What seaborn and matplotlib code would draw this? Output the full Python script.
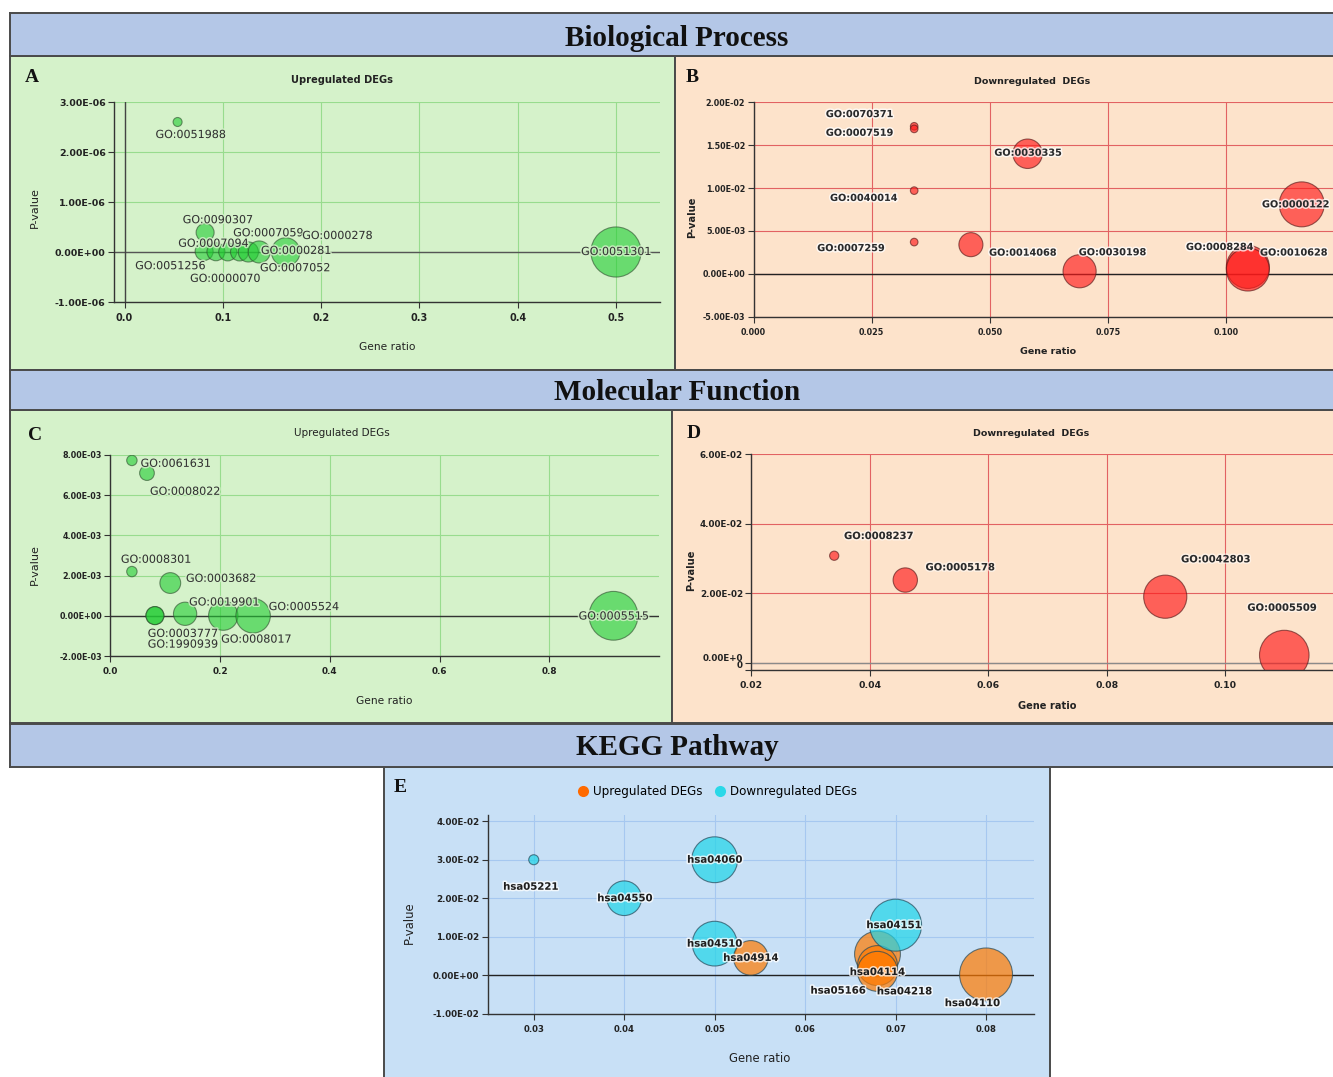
import numpy as np
import pandas as pd
import matplotlib
matplotlib.use("Agg")
import matplotlib.pyplot as plt
import matplotlib.patheffects as pe
from matplotlib.lines import Line2D
import seaborn as sns

# ---------------------------------------------------------------- data
# A: biological process, upregulated DEGs
bp_up_terms = ["GO:0051988", "GO:0090307", "GO:0051256", "GO:0007094", "GO:0000070",
               "GO:0007052", "GO:0000281", "GO:0007059", "GO:0000278", "GO:0051301"]
bp_up_ratio = [0.054, 0.082, 0.081, 0.093, 0.105, 0.117, 0.126, 0.137, 0.164, 0.500]
bp_up_pvalue = [2.6e-6, 3.9e-7, 1e-8, 5e-9, 2e-9, 1e-9, 1e-9, 5e-10, 1e-10, 1e-12]
bp_up_count = [1, 4, 4, 4, 4, 4, 5, 6, 10, 31]

# B: biological process, downregulated DEGs
bp_down_terms = ["GO:0070371", "GO:0007519", "GO:0040014", "GO:0007259", "GO:0014068",
                 "GO:0030335", "GO:0030198", "GO:0008284", "GO:0010628", "GO:0000122"]
bp_down_ratio = [0.034, 0.034, 0.034, 0.034, 0.046, 0.058, 0.069, 0.1046, 0.1046, 0.116]
bp_down_pvalue = [0.0172, 0.0169, 0.0097, 0.0037, 0.0034, 0.0140, 0.0003, 0.0008, 0.0005, 0.0081]
bp_down_count = [1, 1, 1, 1, 10, 15, 19, 32, 32, 35]

# C: molecular function, upregulated DEGs
mf_up_terms = ["GO:0061631", "GO:0008022", "GO:0008301", "GO:0003682", "GO:0003777",
               "GO:1990939", "GO:0019901", "GO:0008017", "GO:0005524", "GO:0005515"]
mf_up_ratio = [0.039, 0.0665, 0.039, 0.109, 0.081, 0.081, 0.136, 0.2056, 0.260, 0.917]
mf_up_pvalue = [7.73e-3, 7.1e-3, 2.2e-3, 1.63e-3, 1e-5, 1e-5, 1e-4, 1e-5, 1e-6, 1e-8]
mf_up_count = [1, 2, 1, 4, 3, 3, 5, 8, 11, 22]

# D: molecular function, downregulated DEGs
mf_down_terms = ["GO:0008237", "GO:0005178", "GO:0042803", "GO:0005509"]
mf_down_ratio = [0.034, 0.046, 0.0899, 0.110]
mf_down_pvalue = [0.0308, 0.0238, 0.0190, 0.0022]
mf_down_count = [1, 7, 22, 29]

# E: KEGG pathways
kegg_terms = ["hsa05221", "hsa04550", "hsa04060", "hsa04510", "hsa04914",
              "hsa04114", "hsa05166", "hsa04218", "hsa04151", "hsa04110"]
kegg_ratio = [0.030, 0.040, 0.050, 0.050, 0.054, 0.068, 0.068, 0.068, 0.070, 0.080]
kegg_pvalue = [0.0300, 0.0200, 0.0300, 0.0082, 0.0045, 0.0055, 0.0025, 0.0010, 0.0130, 0.0002]
kegg_count = [1, 12, 21, 20, 12, 21, 16, 16, 27, 28]
kegg_group = ["Downregulated DEGs", "Downregulated DEGs", "Downregulated DEGs", "Downregulated DEGs",
              "Upregulated DEGs", "Upregulated DEGs", "Upregulated DEGs", "Upregulated DEGs",
              "Downregulated DEGs", "Upregulated DEGs"]

# tick labels
a_xticks, a_xlabels = [0.0, 0.1, 0.2, 0.3, 0.4, 0.5], ["0.0", "0.1", "0.2", "0.3", "0.4", "0.5"]
a_yticks = [-1e-6, 0.0, 1e-6, 2e-6, 3e-6]
a_ylabels = ["-1.00E-06", "0.00E+00", "1.00E-06", "2.00E-06", "3.00E-06"]
b_xticks, b_xlabels = [0.0, 0.025, 0.05, 0.075, 0.1], ["0.000", "0.025", "0.050", "0.075", "0.100"]
b_yticks = [-0.005, 0.0, 0.005, 0.01, 0.015, 0.02]
b_ylabels = ["-5.00E-03", "0.00E+00", "5.00E-03", "1.00E-02", "1.50E-02", "2.00E-02"]
c_xticks, c_xlabels = [0.0, 0.2, 0.4, 0.6, 0.8], ["0.0", "0.2", "0.4", "0.6", "0.8"]
c_yticks = [-0.002, 0.0, 0.002, 0.004, 0.006, 0.008]
c_ylabels = ["-2.00E-03", "0.00E+00", "2.00E-03", "4.00E-03", "6.00E-03", "8.00E-03"]
d_xticks, d_xlabels = [0.02, 0.04, 0.06, 0.08, 0.10], ["0.02", "0.04", "0.06", "0.08", "0.10"]
d_yticks = [-0.0021, 0.0, 0.02, 0.04, 0.06]
d_ylabels = ["0", "0.00E+0", "2.00E-02", "4.00E-02", "6.00E-02"]
e_xticks = [0.03, 0.04, 0.05, 0.06, 0.07, 0.08]
e_xlabels = ["0.03", "0.04", "0.05", "0.06", "0.07", "0.08"]
e_yticks = [-0.01, 0.0, 0.01, 0.02, 0.03, 0.04]
e_ylabels = ["-1.00E-02", "0.00E+00", "1.00E-02", "2.00E-02", "3.00E-02", "4.00E-02"]

# ---------------------------------------------------------------- style
W, H = 1333, 1077
GREEN_BG, PEACH_BG, BLUE_BG, BAND = "#d5f2ca", "#fde3cb", "#c8e0f6", "#b4c7e7"
GREEN, RED = "#22cc33", "#ff1a1a"
ORANGE, CYAN = "#ff7a00", "#1fd5e8"
SANS = "DejaVu Sans"
SERIF = "Liberation Serif"

fig = plt.figure(figsize=(W / 100, H / 100), dpi=100)
fig.patch.set_facecolor("white")


def px_rect(x0, y0, x1, y1):
    return [x0 / W, 1 - y1 / H, (x1 - x0) / W, (y1 - y0) / H]


def fig_xy(x, y):
    return x / W, 1 - y / H


def panel_bg(x0, y0, x1, y1, color, z=0):
    bg = fig.add_axes(px_rect(x0, y0, x1, y1), zorder=z)
    bg.set_facecolor(color)
    bg.set_xticks([])
    bg.set_yticks([])
    for s in bg.spines.values():
        s.set_color("#4a4a4a")
        s.set_linewidth(1.4)
    return bg


def ftext(x, y, s, **kw):
    fig.text(*fig_xy(x, y), s, **kw)


def bubble_axes(rect, df, xlim, ylim, xticks, xlabels, yticks, ylabels, unit_r,
                grid_color, zero_color, xfs, yfs, color=None, hue=None, palette=None,
                alpha=0.6, edge="#2d4d2d"):
    ax = fig.add_axes(px_rect(*rect), zorder=2)
    ax.set_facecolor("none")
    cmax = df["count"].max()
    smax = (1.44 * unit_r) ** 2 * cmax
    sns.scatterplot(data=df, x="ratio", y="pvalue", size="count", sizes=(0, smax),
                    size_norm=(0, cmax), hue=hue, palette=palette, color=color,
                    alpha=alpha, edgecolor=edge, linewidth=0.8, legend=False,
                    ax=ax, zorder=2)
    ax.set_xlabel("")
    ax.set_ylabel("")
    ax.set_xlim(*xlim)
    ax.set_ylim(*ylim)
    ax.set_xticks(xticks)
    ax.set_xticklabels(xlabels, fontsize=xfs, fontweight="bold", family=SANS, color="#222")
    ax.set_yticks(yticks)
    ylabs = ax.set_yticklabels(ylabels, fontsize=yfs, fontweight="bold", family=SANS, color="#222")
    ax.set_axisbelow(True)
    ax.grid(True, color=grid_color, lw=0.8)
    ax.axhline(0, color=zero_color, lw=1.0, zorder=0.8)
    for side in ("top", "right"):
        ax.spines[side].set_visible(False)
    for side in ("left", "bottom"):
        ax.spines[side].set_color("#333")
        ax.spines[side].set_linewidth(1.0)
    ax.tick_params(direction="out", length=4, width=0.8, color="#333", pad=2)
    ax.tick_params(axis="x", pad=4)
    return ax, ylabs


def label_points(ax, df, offsets, ha="center", fs=8, weight="normal", color="#333",
                 halo="white", halo_alpha=0.7):
    has = ha if isinstance(ha, list) else [ha] * len(df)
    for (term, x, y), (dx, dy), h in zip(df[["term", "ratio", "pvalue"]].itertuples(index=False),
                                       offsets, has):
        ax.annotate(term, (x, y), xytext=(dx, dy), textcoords="offset pixels",
                    ha=h, va="center", fontsize=fs, fontweight=weight, color=color,
                    family=SANS, zorder=3, annotation_clip=False,
                    path_effects=[pe.withStroke(linewidth=2.2, foreground=halo, alpha=halo_alpha)])


def frame(terms, ratio, pvalue, count, group=None):
    d = {"term": terms, "ratio": ratio, "pvalue": pvalue, "count": count}
    if group is not None:
        d["group"] = group
    return pd.DataFrame(d)


# ---------------------------------------------------------------- backgrounds
panel_bg(10, 56, 675, 370, GREEN_BG)
panel_bg(675, 56, W + 10, 370, PEACH_BG)
panel_bg(10, 410, 672, 723, GREEN_BG)
panel_bg(672, 410, W + 10, 723, PEACH_BG)
panel_bg(384, 767, 1050, H + 10, BLUE_BG)
for (y0, y1, title, base) in [(13, 56, "Biological Process", 45.5),
                              (370, 410, "Molecular Function", 400),
                              (724, 767, "KEGG Pathway", 755)]:
    panel_bg(10, y0, W + 10, y1, BAND, z=1)
    ftext(677, base, title, ha="center", va="baseline", fontsize=21,
          fontweight="bold", family=SERIF, color="#111")

for letter, x, y in [("A", 32, 78), ("B", 692, 78), ("C", 35, 435), ("D", 694, 434), ("E", 400, 787)]:
    ftext(x, y, letter, ha="center", va="center", fontsize=14, fontweight="bold",
          family=SERIF, color="#111")

# ---------------------------------------------------------------- A
df_a = frame(bp_up_terms, bp_up_ratio, bp_up_pvalue, bp_up_count)
ax_a, _ = bubble_axes((114, 102, 660, 302), df_a, (-0.0107, 0.5448), (-1e-6, 3e-6),
                      a_xticks, a_xlabels, a_yticks, a_ylabels, 4.5, "#98dc8e", "#555",
                      6.9, 6.8, color=GREEN)
ax_a.axvline(0, color="#444", lw=1.0, zorder=0.8)
label_points(ax_a, df_a,
             [(13, -13), (12.6, 12.3), (-34, -14.7), (-2.6, 8), (-2.7, -27),
              (55.5, -16.3), (47.6, 1), (9, 18.7), (51.6, 16), (0, 0)],
             fs=8, color="#333", halo=GREEN_BG, halo_alpha=0.8)
ftext(342, 80, "Upregulated DEGs", ha="center", va="center", fontsize=7.1,
      fontweight="bold", family=SANS, color="#222")
ftext(35, 208, "P-value", ha="center", va="center", rotation=90, fontsize=8, family=SANS, color="#222")
ftext(387, 347, "Gene ratio", ha="center", va="center", fontsize=7.7, family=SANS, color="#222")

# ---------------------------------------------------------------- B
df_b = frame(bp_down_terms, bp_down_ratio, bp_down_pvalue, bp_down_count)
ax_b, _ = bubble_axes((753.5, 102.3, 1345, 316.7), df_b, (0.0, (1345 - 753.5) / 4726),
                      (-0.005, 0.02), b_xticks, b_xlabels, b_yticks, b_ylabels, 3.8,
                      "#e26262", "#222", 5.8, 5.8, color=RED, alpha=0.65, edge="#5a1a1a")
label_points(ax_b, df_b,
             [(-54.6, 12.2), (-54.6, -3.9), (-50.4, -7.3), (-63.2, -6), (52, -8),
              (0.5, 1), (33, 19), (-28, 20), (46, 17), (-6, 0)],
             fs=7, weight="bold", color="#2a2a2a", halo="white", halo_alpha=0.75)
ftext(1032, 81, "Downregulated  DEGs", ha="center", va="center", fontsize=6.8,
      fontweight="bold", family=SANS, color="#222")
ftext(692, 217, "P-value", ha="center", va="center", rotation=90, fontsize=7.1,
      fontweight="bold", family=SANS, color="#222")
ftext(1048, 352, "Gene ratio", ha="center", va="center", fontsize=6.8,
      fontweight="bold", family=SANS, color="#222")

# ---------------------------------------------------------------- C
df_c = frame(mf_up_terms, mf_up_ratio, mf_up_pvalue, mf_up_count)
ax_c, _ = bubble_axes((110.5, 455, 659, 656), df_c, (0.0, 1.0), (-0.002, 0.008),
                      c_xticks, c_xlabels, c_yticks, c_ylabels, 5.2, "#98dc8e", "#333",
                      6.4, 5.8, color=GREEN)
label_points(ax_c, df_c,
             [(8.7, -3.4), (3, -18.7), (-11, 11.8), (15.7, 4.2), (-7.2, -18.3),
              (-7.2, -29), (4, 11.3), (-2.1, -24), (15.6, 8.7), (0, -0.7)],
             ha=["left"] * 9 + ["center"], fs=8, color="#333", halo=GREEN_BG, halo_alpha=0.8)
ftext(342, 433, "Upregulated DEGs", ha="center", va="center", fontsize=7.5,
      family=SANS, color="#222")
ftext(35, 565, "P-value", ha="center", va="center", rotation=90, fontsize=8, family=SANS, color="#222")
ftext(384, 701, "Gene ratio", ha="center", va="center", fontsize=7.7, family=SANS, color="#222")

# ---------------------------------------------------------------- D
df_d = frame(mf_down_terms, mf_down_ratio, mf_down_pvalue, mf_down_count)
ax_d, d_labs = bubble_axes((751.3, 454.3, 1345, 670), df_d,
                           (0.02, 0.02 + (1345 - 751.3) / 5922), (-0.0021, 0.06),
                           d_xticks, d_xlabels, d_yticks, d_ylabels, 4.6,
                           "#e26262", "#8a8a8a", 6.7, 6.3, color=RED, alpha=0.65,
                           edge="#5a1a1a")
for lab in d_labs[:2]:
    lab.set_verticalalignment("bottom")
label_points(ax_d, df_d, [(44.4, 19.7), (55, 12.7), (50.5, 37.4), (-2.3, 47.3)],
             fs=7.2, weight="bold", color="#2a2a2a", halo="white", halo_alpha=0.5)
ftext(1031, 434, "Downregulated  DEGs", ha="center", va="center", fontsize=6.8,
      fontweight="bold", family=SANS, color="#222")
ftext(691, 570, "P-value", ha="center", va="center", rotation=90, fontsize=7.1,
      fontweight="bold", family=SANS, color="#222")
ftext(1047, 706, "Gene ratio", ha="center", va="center", fontsize=7.1,
      fontweight="bold", family=SANS, color="#222")

# ---------------------------------------------------------------- E
df_e = frame(kegg_terms, kegg_ratio, kegg_pvalue, kegg_count, kegg_group)
ax_e, _ = bubble_axes((487.6, 814.7, 1034, 1013.7), df_e, (0.0249, 0.0853), (-0.01, 0.0417),
                      e_xticks, e_xlabels, e_yticks, e_ylabels, 5.0, "#a6c8f0", "#222",
                      6.1, 6.3, hue="group",
                      palette={"Upregulated DEGs": ORANGE, "Downregulated DEGs": CYAN},
                      alpha=0.7, edge="#264a5a")
label_points(ax_e, df_e,
             [(-3, -27), (0.7, 0), (0, 0), (0, 0), (0, 0), (0, -18), (-39.4, -25),
              (27, -20), (-1.5, 0), (-13.6, -28.7)],
             fs=7.3, weight="bold", color="#1e1e1e", halo="white", halo_alpha=0.75)
handles = [Line2D([], [], ls="", marker="o", markersize=8, markerfacecolor="#ff6a00",
                  markeredgecolor="none", label="Upregulated DEGs"),
           Line2D([], [], ls="", marker="o", markersize=8, markerfacecolor="#2ad8e8",
                  markeredgecolor="none", label="Downregulated DEGs")]
fig.legend(handles=handles, loc="center", bbox_to_anchor=fig_xy(717, 792), ncol=2,
           frameon=False, prop={"family": SANS, "size": 8.6}, handletextpad=0.3,
           columnspacing=1.0, handlelength=1.0, borderaxespad=0)
ftext(409, 923, "P-value", ha="center", va="center", rotation=90, fontsize=8.4, family=SANS, color="#222")
ftext(760, 1059, "Gene ratio", ha="center", va="center", fontsize=8.4, family=SANS, color="#222")

fig.savefig("out.png", dpi=100)
